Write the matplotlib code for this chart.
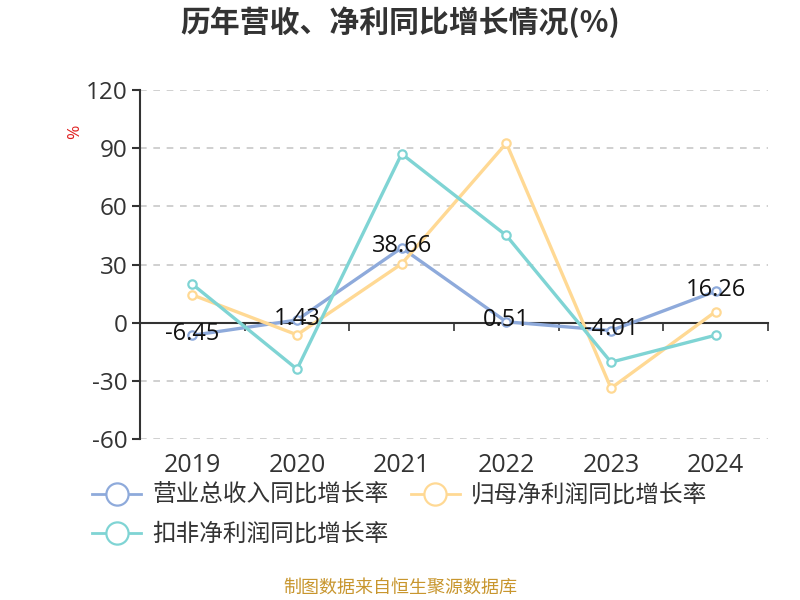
import matplotlib
matplotlib.use("Agg")
import matplotlib.pyplot as plt
from matplotlib.lines import Line2D
from matplotlib.transforms import blended_transform_factory, offset_copy

plt.rcParams['font.family'] = ['Noto Sans CJK SC', 'DejaVu Sans']
NUM_FONT = ['Open Sans', 'DejaVu Sans']

years = ['2019', '2020', '2021', '2022', '2023', '2024']
revenue_growth = [-6.45, 1.43, 38.66, 0.51, -4.01, 16.26]
net_profit_growth = [14.4, -6.2, 30.4, 92.6, -33.7, 5.8]
deducted_profit_growth = [19.9, -23.9, 87.1, 45.0, -20.3, -6.4]
series_names = ['营业总收入同比增长率', '归母净利润同比增长率', '扣非净利润同比增长率']
colors = ['#8eaadb', '#ffd994', '#7fd4d4']
y_ticks = [-60, -30, 0, 30, 60, 90, 120]

fig = plt.figure(figsize=(8, 6), dpi=100)
ax = fig.add_axes([0.175, 0.268, 0.785, 0.582])

x = list(range(len(years)))
for vals, c in zip([revenue_growth, net_profit_growth, deducted_profit_growth], colors):
    ax.plot(x, vals, color=c, lw=2.4, marker='o', markersize=6,
            markerfacecolor='white', markeredgecolor=c, markeredgewidth=1.6, zorder=3)

off = offset_copy(ax.transData, fig=fig, x=0, y=1, units='points')
for xi, v in zip(x, revenue_growth):
    ax.text(xi, v, f'{v:.2f}', transform=off, ha='center', va='center',
            fontsize=17, color='#111111', zorder=4, family=NUM_FONT)

ax.set_xlim(-0.5, len(years) - 0.5)
ax.set_ylim(-60, 120)
ax.set_yticks(y_ticks)
ax.set_yticklabels([str(t) for t in y_ticks], fontsize=17.5, color='#333333', family=NUM_FONT)
ax.yaxis.grid(True, linestyle=(0, (4, 4)), color='#c8c8c8', lw=1.2)
ax.set_axisbelow(True)

for s in ['top', 'right']:
    ax.spines[s].set_visible(False)
ax.spines['left'].set_color('#333333')
ax.spines['left'].set_linewidth(1.5)
ax.spines['bottom'].set_position(('data', 0))
ax.spines['bottom'].set_color('#333333')
ax.spines['bottom'].set_linewidth(1.5)
ax.tick_params(axis='y', length=6, width=1.5, color='#333333', pad=3)
ax.set_xticks([i - 0.5 for i in range(len(years) + 1)])
ax.set_xticklabels([])
ax.tick_params(axis='x', length=6, width=1.2, color='#333333', direction='out')

tb = blended_transform_factory(ax.transData, ax.transAxes)
for xi, lab in zip(x, years):
    ax.text(xi, -0.04, lab, transform=tb, ha='center', va='top', fontsize=18,
            color='#333333', family=NUM_FONT)

ax.text(-0.1035, 0.88, '%', transform=ax.transAxes, rotation=90, color='#e02020',
        fontsize=12.5, ha='center', va='center', family=NUM_FONT)

fig.text(0.5, 0.963, '历年营收、净利同比增长情况(%)', ha='center', va='center',
         fontsize=21.5, fontweight='bold', color='#333333')

handles = [Line2D([0], [0], color=c, lw=2, marker='o', markersize=16,
                  markerfacecolor='white', markeredgecolor=c, markeredgewidth=1.6)
           for c in colors]
order = [0, 2, 1]
fig.legend([handles[i] for i in order], [series_names[i] for i in order],
           loc='upper left', bbox_to_anchor=(0.1, 0.213),
           ncol=2, frameon=False, fontsize=17, handlelength=2.1, handletextpad=0.45,
           columnspacing=0.95, labelspacing=0.68, labelcolor='#333333', borderpad=0)

fig.text(0.5, 0.02, '制图数据来自恒生聚源数据库', ha='center', va='center',
         fontsize=13, color='#c8962e')

fig.savefig('out.png', dpi=100)
